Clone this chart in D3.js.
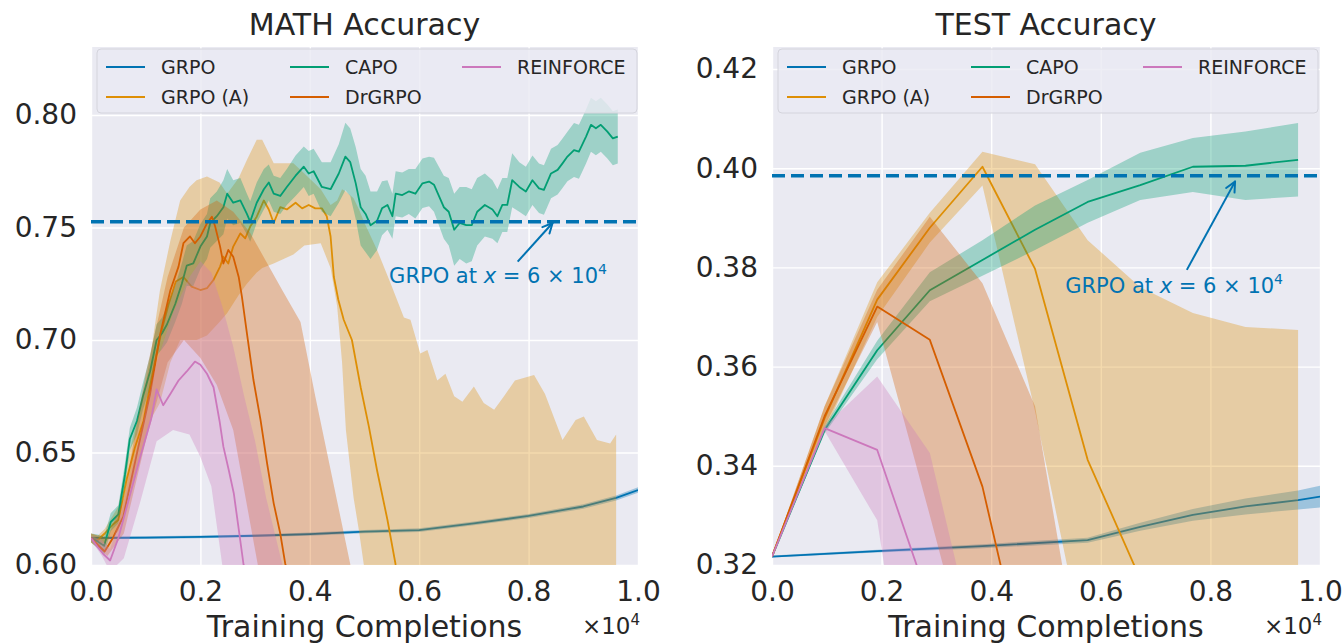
<!DOCTYPE html>
<html>
<head>
<meta charset="utf-8">
<script src="https://cdn.jsdelivr.net/npm/d3@7"></script>
<style>
  body { margin: 0; background: #fff; }
  svg text { font-family: "DejaVu Sans", sans-serif; fill: #262626; }
</style>
</head>
<body>
<svg id="fig" width="1344" height="643"></svg>
<script>
/******************************************
  Data
******************************************/
var seriesNames = ["GRPO", "GRPO (A)", "CAPO", "DrGRPO", "REINFORCE"];
var seriesColors = ["#0173B2", "#DE8F05", "#029E73", "#D55E00", "#CC78BC"];
var xTicks = [0, 0.2, 0.4, 0.6, 0.8, 1.0];

// ---- MATH panel ----
var mathYTicks = [0.60, 0.65, 0.70, 0.75, 0.80];
var mathGrpoRef = 0.7525;

var mathGrpoX = [0, 0.1, 0.2, 0.3, 0.4, 0.5, 0.6, 0.7, 0.8, 0.9, 0.96, 1.0];
var mathGrpoY = [0.612, 0.6122, 0.6125, 0.613, 0.6137, 0.6148, 0.6155, 0.6185, 0.6218, 0.626, 0.6298, 0.6333];
var mathGrpoSd = [0.0005, 0.0006, 0.0006, 0.0006, 0.0007, 0.0007, 0.0008, 0.0008, 0.0009, 0.001, 0.0011, 0.0012];

var mathGrpoAX = [0, 0.012, 0.025, 0.04, 0.05, 0.065, 0.08, 0.096, 0.11, 0.12, 0.13, 0.142, 0.155, 0.169, 0.184, 0.2,
  0.212, 0.224, 0.236, 0.242, 0.251, 0.26, 0.273, 0.282, 0.291, 0.303, 0.316, 0.325, 0.334, 0.346, 0.358, 0.374,
  0.386, 0.398, 0.41, 0.422, 0.431, 0.438, 0.444, 0.452, 0.462, 0.477, 0.493, 0.508, 0.523, 0.542, 0.557, 0.575,
  0.6, 0.7, 0.8, 0.96];
var mathGrpoAY = [0.612, 0.611, 0.614, 0.618, 0.620, 0.638, 0.652, 0.664, 0.682, 0.694, 0.705, 0.716, 0.726, 0.728, 0.7237, 0.7222,
  0.723, 0.7267, 0.7326, 0.737, 0.734, 0.7415, 0.7474, 0.7452, 0.7504, 0.7548, 0.762, 0.758, 0.752, 0.759, 0.758, 0.761,
  0.7585, 0.760, 0.7585, 0.7585, 0.755, 0.746, 0.728, 0.718, 0.709, 0.700, 0.679, 0.6615, 0.642, 0.620, 0.600, 0.580,
  0.555, 0.52, 0.50, 0.48];
var mathGrpoABandX = [0, 0.012, 0.025, 0.04, 0.05, 0.065, 0.08, 0.096, 0.11, 0.126, 0.145, 0.163, 0.18, 0.193, 0.212, 0.235,
  0.249, 0.27, 0.285, 0.303, 0.313, 0.334, 0.37, 0.39, 0.42, 0.438, 0.45, 0.459, 0.466, 0.48, 0.49, 0.5, 0.523, 0.548,
  0.572, 0.584, 0.602, 0.615, 0.633, 0.648, 0.664, 0.679, 0.70, 0.718, 0.737, 0.755, 0.775, 0.81, 0.83, 0.862, 0.886,
  0.901, 0.925, 0.949, 0.96];
var mathGrpoAHi = [0.614, 0.613, 0.616, 0.622, 0.626, 0.645, 0.66, 0.675, 0.695, 0.722, 0.744, 0.762, 0.768, 0.771, 0.7726, 0.770,
  0.765, 0.772, 0.78, 0.789, 0.789, 0.7785, 0.7785, 0.774, 0.767, 0.76, 0.762, 0.767, 0.766, 0.763, 0.758, 0.752, 0.74, 0.725,
  0.71, 0.709, 0.694, 0.6956, 0.682, 0.685, 0.675, 0.6726, 0.6793, 0.672, 0.669, 0.675, 0.682, 0.6844, 0.676, 0.6556, 0.6644,
  0.666, 0.6556, 0.654, 0.658];
var mathGrpoALo = [0.610, 0.608, 0.610, 0.613, 0.615, 0.628, 0.64, 0.652, 0.665, 0.672, 0.69, 0.70, 0.70, 0.70, 0.702, 0.708,
  0.712, 0.72, 0.725, 0.73, 0.732, 0.734, 0.738, 0.742, 0.743, 0.732, 0.715, 0.69, 0.66, 0.63, 0.615, 0.598, 0.56, 0.53,
  0.51, 0.50, 0.49, 0.485, 0.48, 0.475, 0.47, 0.465, 0.46, 0.458, 0.455, 0.452, 0.45, 0.448, 0.445, 0.443, 0.44,
  0.44, 0.438, 0.436, 0.435];

var mathCapoX = [0, 0.012, 0.024, 0.036, 0.05, 0.062, 0.071, 0.084, 0.095, 0.108, 0.12, 0.13, 0.139, 0.154, 0.166, 0.175,
  0.187, 0.2, 0.212, 0.218, 0.23, 0.242, 0.249, 0.26, 0.273, 0.285, 0.291, 0.303, 0.316, 0.325, 0.334, 0.346, 0.358,
  0.374, 0.389, 0.398, 0.407, 0.422, 0.438, 0.453, 0.465, 0.474, 0.484, 0.493, 0.502, 0.511, 0.523, 0.532, 0.542, 0.551,
  0.557, 0.569, 0.581, 0.593, 0.606, 0.618, 0.627, 0.636, 0.645, 0.654, 0.664, 0.674, 0.686, 0.696, 0.706, 0.72, 0.734,
  0.743, 0.752, 0.761, 0.77, 0.783, 0.795, 0.807, 0.819, 0.828, 0.841, 0.853, 0.862, 0.871, 0.883, 0.892, 0.905, 0.914,
  0.923, 0.932, 0.944, 0.954, 0.963];
var mathCapoY = [0.612, 0.6105, 0.6085, 0.619, 0.6225, 0.640, 0.656, 0.664, 0.675, 0.686, 0.700, 0.703, 0.707, 0.716, 0.725, 0.733,
  0.734, 0.7415, 0.746, 0.752, 0.755, 0.759, 0.765, 0.761, 0.762, 0.756, 0.7526, 0.761, 0.767, 0.770, 0.765, 0.764, 0.768,
  0.773, 0.777, 0.774, 0.775, 0.768, 0.767, 0.774, 0.7815, 0.779, 0.7696, 0.759, 0.756, 0.751, 0.753, 0.7585, 0.760, 0.755,
  0.765, 0.7644, 0.766, 0.765, 0.7696, 0.7704, 0.769, 0.764, 0.759, 0.757, 0.749, 0.752, 0.751, 0.751, 0.757, 0.760, 0.758,
  0.755, 0.760, 0.760, 0.771, 0.768, 0.766, 0.771, 0.7674, 0.7667, 0.774, 0.7756, 0.7785, 0.7815, 0.7844, 0.7837, 0.7904, 0.7956,
  0.7941, 0.7956, 0.7926, 0.7896, 0.7904];
var mathCapoSd = [0.002, 0.003, 0.004, 0.004, 0.004, 0.005, 0.005, 0.006, 0.006, 0.007, 0.007, 0.007, 0.008, 0.008, 0.009, 0.009,
  0.010, 0.010, 0.010, 0.011, 0.011, 0.012, 0.011, 0.010, 0.010, 0.009, 0.009, 0.009, 0.009, 0.008, 0.008, 0.008, 0.008,
  0.009, 0.009, 0.010, 0.010, 0.011, 0.012, 0.013, 0.015, 0.015, 0.016, 0.017, 0.017, 0.015, 0.013, 0.012, 0.011, 0.010,
  0.010, 0.010, 0.010, 0.011, 0.011, 0.011, 0.012, 0.013, 0.014, 0.015, 0.016, 0.016, 0.017, 0.016, 0.015, 0.014, 0.013,
  0.012, 0.012, 0.012, 0.012, 0.011, 0.011, 0.011, 0.011, 0.011, 0.011, 0.011, 0.011, 0.011, 0.012, 0.012, 0.012, 0.012,
  0.012, 0.012, 0.012, 0.012, 0.012];

var mathDrX = [0, 0.012, 0.025, 0.04, 0.059, 0.084, 0.108, 0.126, 0.145, 0.16, 0.169, 0.181, 0.19, 0.2, 0.212, 0.221, 0.227,
  0.236, 0.242, 0.251, 0.26, 0.27, 0.276, 0.285, 0.297, 0.31, 0.322, 0.334, 0.346, 0.355, 0.4, 0.5, 0.6, 0.8, 0.96];
var mathDrY = [0.612, 0.609, 0.606, 0.612, 0.6215, 0.6496, 0.676, 0.702, 0.722, 0.7326, 0.743, 0.746, 0.743, 0.746, 0.7518, 0.7548, 0.7504,
  0.7415, 0.734, 0.74, 0.737, 0.728, 0.719, 0.703, 0.6822, 0.6644, 0.645, 0.6274, 0.614, 0.6007, 0.56, 0.5, 0.47, 0.45, 0.44];
var mathDrBandX = [0, 0.03, 0.06, 0.1, 0.14, 0.17, 0.2, 0.23, 0.26, 0.29, 0.32, 0.35, 0.383, 0.41, 0.44, 0.47, 0.5, 0.6];
var mathDrHi = [0.614, 0.612, 0.63, 0.685, 0.728, 0.75, 0.758, 0.762, 0.757, 0.748, 0.735, 0.722, 0.708, 0.675, 0.64, 0.605, 0.57, 0.5];
var mathDrLo = [0.61, 0.604, 0.614, 0.655, 0.69, 0.70, 0.692, 0.68, 0.66, 0.62, 0.58, 0.55, 0.52, 0.5, 0.48, 0.46, 0.45, 0.43];

var mathReinX = [0, 0.012, 0.022, 0.035, 0.05, 0.07, 0.09, 0.11, 0.12, 0.132, 0.145, 0.16, 0.175, 0.19, 0.2, 0.212, 0.224,
  0.235, 0.242, 0.252, 0.261, 0.27, 0.279, 0.3, 0.4, 0.6, 0.96];
var mathReinY = [0.612, 0.608, 0.605, 0.602, 0.612, 0.63, 0.648, 0.665, 0.678, 0.671, 0.676, 0.682, 0.686, 0.6904, 0.689, 0.685, 0.679,
  0.664, 0.6526, 0.642, 0.6319, 0.616, 0.60, 0.575, 0.52, 0.48, 0.45];
var mathReinBandX = [0, 0.02, 0.035, 0.06, 0.09, 0.12, 0.15, 0.18, 0.2, 0.22, 0.24, 0.26, 0.28, 0.3, 0.32, 0.35, 0.4];
var mathReinHi = [0.613, 0.611, 0.607, 0.627, 0.658, 0.69, 0.712, 0.728, 0.735, 0.73, 0.715, 0.697, 0.675, 0.655, 0.63, 0.60, 0.55];
var mathReinLo = [0.611, 0.604, 0.597, 0.603, 0.628, 0.655, 0.66, 0.658, 0.648, 0.635, 0.60, 0.57, 0.55, 0.53, 0.51, 0.49, 0.46];

// ---- TEST panel ----
var testYTicks = [0.32, 0.34, 0.36, 0.38, 0.40, 0.42];
var testGrpoRef = 0.3985;
var testX = [0, 0.096, 0.192, 0.288, 0.384, 0.48, 0.576, 0.672, 0.768, 0.864, 0.96];

var testGrpoX = [0, 0.192, 0.384, 0.576, 0.672, 0.768, 0.864, 0.96, 1.0];
var testGrpoY = [0.3217, 0.3228, 0.3238, 0.3250, 0.3277, 0.3301, 0.3318, 0.3331, 0.3338];
var testGrpoSd = [0.0002, 0.0003, 0.0004, 0.0005, 0.0008, 0.0012, 0.0016, 0.0019, 0.0022];

var testGrpoAY = [0.3217, 0.3496, 0.3735, 0.3880, 0.4003, 0.3797, 0.3412, 0.3172, 0.305, 0.298, 0.295];
var testGrpoAHi = [0.3217, 0.352, 0.377, 0.391, 0.4033, 0.4008, 0.3855, 0.376, 0.3708, 0.368, 0.3674];
var testGrpoALo = [0.3217, 0.347, 0.370, 0.385, 0.3965, 0.351, 0.30, 0.27, 0.25, 0.24, 0.235];

var testCapoY = [0.3217, 0.3472, 0.3633, 0.3754, 0.3815, 0.3876, 0.3932, 0.3966, 0.4003, 0.4005, 0.4017];
var testCapoHi = [0.3217, 0.348, 0.3652, 0.3790, 0.3855, 0.3925, 0.3976, 0.4031, 0.4061, 0.4074, 0.4091];
var testCapoLo = [0.3217, 0.3465, 0.3615, 0.3732, 0.3783, 0.3835, 0.389, 0.3936, 0.3952, 0.3936, 0.3943];

var testDrY = [0.3217, 0.350, 0.3721, 0.3654, 0.3358, 0.29, 0.27, 0.26, 0.25, 0.245, 0.24];
var testDrHi = [0.3217, 0.352, 0.3755, 0.3902, 0.3768, 0.352, 0.29, 0.27, 0.26, 0.25, 0.25];
var testDrLo = [0.3217, 0.348, 0.369, 0.330, 0.29, 0.26, 0.25, 0.24, 0.23, 0.23, 0.23];

var testReinY = [0.3217, 0.3476, 0.3432, 0.3122, 0.29, 0.28, 0.27, 0.26, 0.26, 0.25, 0.25];
var testReinHi = [0.3217, 0.348, 0.358, 0.3426, 0.298, 0.29, 0.28, 0.27, 0.27, 0.26, 0.26];
var testReinLo = [0.3217, 0.347, 0.329, 0.2604, 0.25, 0.24, 0.24, 0.23, 0.23, 0.23, 0.23];

/******************************************
  Build series records from the arrays
******************************************/
function meanSd(xs, ys, sds) {
  return xs.map((x, i) => ({ x: x, y: ys[i], lo: ys[i] - sds[i], hi: ys[i] + sds[i] }));
}
function pts(xs, ys) {
  return xs.map((x, i) => ({ x: x, y: ys[i] }));
}
function band(xs, lo, hi) {
  return xs.map((x, i) => ({ x: x, lo: lo[i], hi: hi[i] }));
}

var mathSeries = [
  { name: "GRPO", line: pts(mathGrpoX, mathGrpoY), band: meanSd(mathGrpoX, mathGrpoY, mathGrpoSd) },
  { name: "GRPO (A)", line: pts(mathGrpoAX, mathGrpoAY), band: band(mathGrpoABandX, mathGrpoALo, mathGrpoAHi) },
  { name: "CAPO", line: pts(mathCapoX, mathCapoY), band: meanSd(mathCapoX, mathCapoY, mathCapoSd) },
  { name: "DrGRPO", line: pts(mathDrX, mathDrY), band: band(mathDrBandX, mathDrLo, mathDrHi) },
  { name: "REINFORCE", line: pts(mathReinX, mathReinY), band: band(mathReinBandX, mathReinLo, mathReinHi) }
];

var testSeries = [
  { name: "GRPO", line: pts(testGrpoX, testGrpoY), band: meanSd(testGrpoX, testGrpoY, testGrpoSd) },
  { name: "GRPO (A)", line: pts(testX, testGrpoAY), band: band(testX, testGrpoALo, testGrpoAHi) },
  { name: "CAPO", line: pts(testX, testCapoY), band: band(testX, testCapoLo, testCapoHi) },
  { name: "DrGRPO", line: pts(testX, testDrY), band: band(testX, testDrLo, testDrHi) },
  { name: "REINFORCE", line: pts(testX, testReinY), band: band(testX, testReinLo, testReinHi) }
];

var color = d3.scaleOrdinal().domain(seriesNames).range(seriesColors);
var svg = d3.select("#fig");

var panels = [
  {
    id: "math", title: "MATH Accuracy", left: 91, right: 638,
    yDomain: [0.60, 0.8302], yTicks: mathYTicks, series: mathSeries, ref: mathGrpoRef,
    noteAt: [0.545, 0.7253], arrowFrom: [0.78, 0.7348], arrowTo: [0.8438, 0.752]
  },
  {
    id: "test", title: "TEST Accuracy", left: 772, right: 1320,
    yDomain: [0.32, 0.42444], yTicks: testYTicks, series: testSeries, ref: testGrpoRef,
    noteAt: [0.535, 0.3748], arrowFrom: [0.757, 0.3795], arrowTo: [0.845, 0.3973]
  }
];

var plotTop = 47, plotBottom = 565;

panels.forEach(function (p) {
  var xScale = d3.scaleLinear().domain([0, 1]).range([p.left, p.right]);
  var yScale = d3.scaleLinear().domain(p.yDomain).range([plotBottom, plotTop]);
  var w = p.right - p.left, h = plotBottom - plotTop;

  var g = svg.append("g").attr("class", "panel-" + p.id);

  // background
  g.append("rect")
    .attr("x", p.left).attr("y", plotTop)
    .attr("width", w).attr("height", h)
    .attr("fill", "#EAEAF2");

  g.append("clipPath").attr("id", "clip-" + p.id)
    .append("rect")
    .attr("x", p.left).attr("y", plotTop)
    .attr("width", w).attr("height", h);

  // grid
  g.append("g")
    .attr("transform", "translate(0," + plotBottom + ")")
    .call(d3.axisBottom(xScale).tickValues(xTicks).tickSize(-h).tickFormat(""))
    .call(s => s.select(".domain").remove())
    .selectAll("line").attr("stroke", "#fff").attr("stroke-width", 1.4);

  g.append("g")
    .attr("transform", "translate(" + p.left + ",0)")
    .call(d3.axisLeft(yScale).tickValues(p.yTicks).tickSize(-w).tickFormat(""))
    .call(s => s.select(".domain").remove())
    .selectAll("line").attr("stroke", "#fff").attr("stroke-width", 1.4);

  // tick labels
  var xAxis = g.append("g")
    .attr("transform", "translate(0," + plotBottom + ")")
    .call(d3.axisBottom(xScale).tickValues(xTicks).tickSize(0).tickPadding(16).tickFormat(d3.format(".1f")));
  xAxis.select(".domain").remove();
  xAxis.selectAll("text").attr("font-size", 28).attr("font-family", "DejaVu Sans").attr("fill", "#262626");

  var yAxis = g.append("g")
    .attr("transform", "translate(" + p.left + ",0)")
    .call(d3.axisLeft(yScale).tickValues(p.yTicks).tickSize(0).tickPadding(14).tickFormat(d3.format(".2f")));
  yAxis.select(".domain").remove();
  yAxis.selectAll("text").attr("font-size", 28).attr("font-family", "DejaVu Sans").attr("fill", "#262626");

  // marks
  var plot = g.append("g").attr("clip-path", "url(#clip-" + p.id + ")");

  var area = d3.area()
    .x(d => xScale(d.x))
    .y0(d => yScale(d.lo))
    .y1(d => yScale(d.hi));
  var line = d3.line()
    .x(d => xScale(d.x))
    .y(d => yScale(d.y));

  p.series.forEach(function (s) {
    plot.append("path")
      .datum(s.band)
      .attr("d", area)
      .attr("fill", color(s.name))
      .attr("fill-opacity", 0.33);
    plot.append("path")
      .datum(s.line)
      .attr("d", line)
      .attr("fill", "none")
      .attr("stroke", color(s.name))
      .attr("stroke-width", 1.8)
      .attr("stroke-linejoin", "round");
  });

  // GRPO reference
  plot.append("line")
    .attr("x1", p.left).attr("x2", p.right)
    .attr("y1", yScale(p.ref)).attr("y2", yScale(p.ref))
    .attr("stroke", "#0173B2")
    .attr("stroke-width", 3.5)
    .attr("stroke-dasharray", "13,6");

  // annotation arrow
  var ax0 = xScale(p.arrowFrom[0]), ay0 = yScale(p.arrowFrom[1]);
  var ax1 = xScale(p.arrowTo[0]), ay1 = yScale(p.arrowTo[1]);
  var ang = Math.atan2(ay1 - ay0, ax1 - ax0);
  g.append("line")
    .attr("x1", ax0).attr("y1", ay0).attr("x2", ax1).attr("y2", ay1)
    .attr("stroke", "#0173B2").attr("stroke-width", 2);
  [-0.45, 0.45].forEach(function (da) {
    g.append("line")
      .attr("x1", ax1).attr("y1", ay1)
      .attr("x2", ax1 - 11 * Math.cos(ang + da))
      .attr("y2", ay1 - 11 * Math.sin(ang + da))
      .attr("stroke", "#0173B2").attr("stroke-width", 2)
      .attr("stroke-linecap", "round");
  });

  var note = g.append("text")
    .attr("x", xScale(p.noteAt[0]))
    .attr("y", yScale(p.noteAt[1]))
    .attr("font-size", 21)
    .style("fill", "#0173B2");
  note.append("tspan").style("fill", "#0173B2").text("GRPO at ");
  note.append("tspan").style("fill", "#0173B2").attr("font-style", "italic").text("x");
  note.append("tspan").style("fill", "#0173B2").text(" = 6 \u00d7 10");
  note.append("tspan").style("fill", "#0173B2").attr("dy", -9).attr("font-size", 14).text("4");

  // legend
  var lg = g.append("g").attr("transform", "translate(" + (p.left + 6) + ",49)");
  lg.append("rect")
    .attr("width", 540).attr("height", 64)
    .attr("rx", 4)
    .attr("fill", "#EAEAF2").attr("fill-opacity", 0.8)
    .attr("stroke", "#d4d4dc").attr("stroke-width", 1);
  var colX = [9, 193, 365];
  seriesNames.forEach(function (name, i) {
    var col = Math.floor(i / 2), row = i % 2;
    var item = lg.append("g").attr("transform", "translate(" + colX[col] + "," + (18 + row * 30) + ")");
    item.append("line")
      .attr("x1", 0).attr("x2", 39).attr("y1", 0).attr("y2", 0)
      .attr("stroke", color(name)).attr("stroke-width", 2);
    item.append("text")
      .attr("x", 55).attr("y", 7)
      .attr("font-size", 19)
      .text(name);
  });

  // title and labels
  g.append("text")
    .attr("x", (p.left + p.right) / 2).attr("y", 35)
    .attr("text-anchor", "middle")
    .attr("font-size", 30)
    .text(p.title);

  g.append("text")
    .attr("x", (p.left + p.right) / 2).attr("y", 637)
    .attr("text-anchor", "middle")
    .attr("font-size", 30)
    .text("Training Completions");

  var off = g.append("text")
    .attr("x", p.right + 2).attr("y", 634)
    .attr("text-anchor", "end")
    .attr("font-size", 23);
  off.append("tspan").text("\u00d710");
  off.append("tspan").attr("dy", -9).attr("font-size", 15).text("4");
});
</script>
</body>
</html>
